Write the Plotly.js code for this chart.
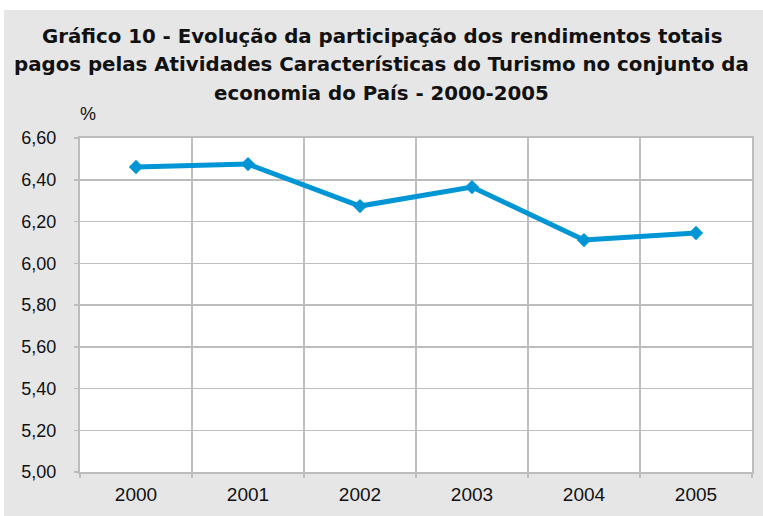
<!DOCTYPE html>
<html><head><meta charset="utf-8">
<script src="https://cdn.plot.ly/plotly-3.0.1.min.js"></script>
<style>
html,body{margin:0;padding:0;background:#ffffff;width:763px;height:516px;overflow:hidden;}
#chart{position:absolute;left:4px;top:10px;width:759px;height:506px;}
</style></head>
<body><div id="chart"></div>
<script>
const years = ["2000","2001","2002","2003","2004","2005"];
const share = [6.461, 6.475, 6.274, 6.365, 6.111, 6.145];
const yTicks = [5.0,5.2,5.4,5.6,5.8,6.0,6.2,6.4,6.6];
const yTickText = ["5,00","5,20","5,40","5,60","5,80","6,00","6,20","6,40","6,60"];
const titleLines = [
  "Gráfico 10 - Evolução da participação dos rendimentos totais",
  "pagos pelas Atividades Características do Turismo no conjunto da",
  "economia do País - 2000-2005"
];

const trace = {
  x: years, y: share, type: "scatter", mode: "lines+markers",
  line: {color: "#0096d6", width: 5},
  marker: {symbol: "diamond", size: 11, color: "#0096d6"},
  hoverinfo: "x+y"
};
const titleY = [1.305, 1.221, 1.134];
const annotations = titleLines.map((t, i) => ({
  text: t, xref: "paper", yref: "paper", x: 0.4494, y: titleY[i],
  xanchor: "center", yanchor: "middle", showarrow: false,
  font: {family: "DejaVu Sans, sans-serif", size: 19.8, color: "#111", weight: "bold"}
}));
annotations.push({
  text: "%", xref: "paper", yref: "paper", x: 0.0, y: 1.0,
  xanchor: "left", yanchor: "bottom", yshift: 12, xshift: -2,
  showarrow: false, font: {size: 18, color: "#111"}
});
const layout = {
  width: 759, height: 506,
  paper_bgcolor: "#e6e6e7", plot_bgcolor: "#ffffff",
  margin: {l: 76, r: 11, t: 128, b: 44},
  showlegend: false,
  font: {family: "Liberation Sans, Arial, sans-serif", size: 18, color: "#111"},
  xaxis: {
    type: "category", tickson: "boundaries",
    showgrid: true, gridcolor: "#bdbdbd", gridwidth: 1.5,
    ticks: "outside", ticklen: 4, tickcolor: "#bdbdbd", tickwidth: 1.5,
    showline: true, linecolor: "#bdbdbd", linewidth: 2, mirror: true,
    range: [-0.5, 5.5],
    tickfont: {size: 19, color: "#111"},
    ticklabelstandoff: 4
  },
  yaxis: {
    range: [5.0, 6.6], tickvals: yTicks, ticktext: yTickText,
    showgrid: true, gridcolor: "#bdbdbd", gridwidth: 1.5,
    ticks: "outside", ticklen: 4, tickcolor: "#bdbdbd", tickwidth: 1.5,
    showline: true, linecolor: "#bdbdbd", linewidth: 2, mirror: true,
    zeroline: false,
    tickfont: {size: 18, color: "#111"},
    ticklabelstandoff: 14
  },
  annotations: annotations
};
Plotly.newPlot("chart", [trace], layout, {displayModeBar: false, staticPlot: true});
</script></body></html>
